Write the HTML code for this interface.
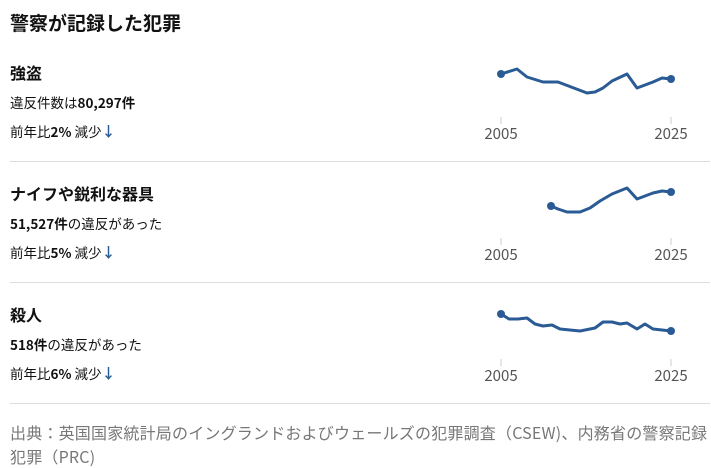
<!DOCTYPE html><html><head><meta charset="utf-8"><style>
body{margin:0;width:711px;height:467px;overflow:hidden;background:#fff;font-family:"Noto Sans CJK JP","Liberation Sans",sans-serif;color:#111;position:relative}
.a{position:absolute;white-space:nowrap;line-height:1.2}
h1{position:absolute;left:10px;top:12px;margin:0;font-size:19px;font-weight:bold;line-height:1.2}
.t{font-size:16px;font-weight:bold}
.s{font-size:13.5px}
.hr{position:absolute;left:10px;width:700px;height:1px;background:#ddd}
.src{font-size:16px;color:#777;letter-spacing:0.2px}
.ar{color:#2a5b94;font-weight:bold;font-size:14px}
</style></head><body>
<h1>警察が記録した犯罪</h1>
<div class="a t" style="left:10px;top:63px">強盗</div>
<div class="a s" style="left:10px;top:94px">違反件数は<b>80,297件</b></div>
<div class="a s" style="left:10px;top:123px">前年比<b>2%</b> 減少<span class="ar">↓</span></div>
<div class="hr" style="top:161px"></div>
<div class="a t" style="left:10px;top:184px">ナイフや鋭利な器具</div>
<div class="a s" style="left:10px;top:215px"><b>51,527件</b>の違反があった</div>
<div class="a s" style="left:10px;top:244px">前年比<b>5%</b> 減少<span class="ar">↓</span></div>
<div class="hr" style="top:282px"></div>
<div class="a t" style="left:10px;top:305px">殺人</div>
<div class="a s" style="left:10px;top:336px"><b>518件</b>の違反があった</div>
<div class="a s" style="left:10px;top:365px">前年比<b>6%</b> 減少<span class="ar">↓</span></div>
<div class="hr" style="top:403px"></div>
<div class="a src" style="left:10px;top:423px">出典：英国国家統計局のイングランドおよびウェールズの犯罪調査（CSEW)、内務省の警察記録</div>
<div class="a src" style="left:10px;top:447px">犯罪（PRC)</div>
<svg class="a" style="left:0;top:0" width="711" height="467">
<g stroke="#ccc" stroke-width="1"><line x1="501" y1="117" x2="501" y2="124"/><line x1="671" y1="117" x2="671" y2="124"/><line x1="501" y1="238" x2="501" y2="245"/><line x1="671" y1="238" x2="671" y2="245"/><line x1="501" y1="359" x2="501" y2="366"/><line x1="671" y1="359" x2="671" y2="366"/></g>
<g font-size="15" fill="#555" text-anchor="middle" font-family="Noto Sans CJK JP,sans-serif"><text x="501" y="139">2005</text><text x="671" y="139">2025</text><text x="501" y="260">2005</text><text x="671" y="260">2025</text><text x="501" y="381">2005</text><text x="671" y="381">2025</text></g>
<g fill="none" stroke="#2a5b94" stroke-width="3" stroke-linejoin="round">
<polyline points="501,74 517,69 527,77 543,82 558,82 587,93 595,92 603,88 612,81 627,74 637,88 653,82 662,78 671,79"/>
<polyline points="551,206 558,209 567,212 580,212 590,208 600,201 612,194 627,188 637,199 653,193 662,191 671,192"/>
<polyline points="501,314 509,319 518,319 527,318 535,324 543,326 552,325 560,329 570,330 580,331 595,328 603,322 612,322 620,324 627,323 637,329 645,324 653,329 671,331"/>
</g>
<g fill="#2a5b94"><circle cx="501" cy="74" r="4"/><circle cx="671" cy="79" r="4"/><circle cx="551" cy="206" r="4"/><circle cx="671" cy="192" r="4"/><circle cx="501" cy="314" r="4"/><circle cx="671" cy="331" r="4"/></g>
</svg>
</body></html>
